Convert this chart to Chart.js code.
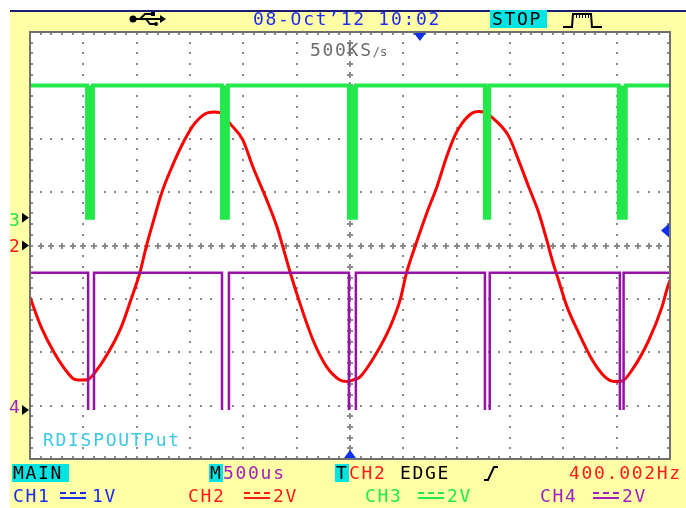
<!DOCTYPE html>
<html>
<head>
<meta charset="utf-8">
<script src="https://cdn.jsdelivr.net/npm/chart.js@4.4.1/dist/chart.umd.min.js"></script>
<style>
  body { margin: 0; background: #fff; }
  #wrap { position: relative; width: 686px; height: 508px; overflow: hidden; }
  #scope { position: absolute; left: 0; top: 0; }
  .t {
    position: absolute;
    font-family: 'DejaVu Sans Mono', 'Liberation Mono', monospace;
    font-size: 18px;
    line-height: 18px;
    letter-spacing: 1.7px;
    white-space: pre;
  }
  .box { background: #00e4e4; color: #000; height: 18px; }
  .dc {
    position: absolute;
    width: 26px;
    height: 3px;
    border-top: 2px dashed;
    border-bottom: 2px solid;
  }
  .blue { color: #1a2cf0; }
  .red { color: #ff1a1a; }
  .green { color: #22e84a; }
  .purple { color: #a020c0; }
  .small { font-size: 12px; letter-spacing: 0; }
</style>
</head>
<body>
<div id="wrap">
  <canvas id="scope" width="686" height="508"></canvas>

  <div class="t blue" style="left:253px; top:10px;">08-Oct’12 10:02</div>
  <div class="t box" style="left:490px; top:10px; width:55px; padding-left:2px;">STOP</div>

  <div class="t" style="left:310px; top:41px; color:#6c6c6c;">500KS<span class="small">/s</span></div>
  <div class="t" style="left:43px; top:431px; color:#3cc8e6;">RDISPOUTPut</div>

  <div class="t green" style="left:9px; top:211px; letter-spacing:0;">3</div>
  <div class="t red" style="left:9px; top:237px; letter-spacing:0;">2</div>
  <div class="t purple" style="left:9px; top:398px; letter-spacing:0;">4</div>

  <div class="t box" style="left:12px; top:464px; width:56px; padding-left:1px;">MAIN</div>
  <div class="t box" style="left:209px; top:464px; width:13px; letter-spacing:0; padding-left:1px;">M</div>
  <div class="t purple" style="left:223px; top:464px;">500us</div>
  <div class="t box" style="left:335px; top:464px; width:13px; letter-spacing:0; padding-left:1px;">T</div>
  <div class="t red" style="left:349px; top:464px;">CH2</div>
  <div class="t" style="left:400px; top:464px; color:#000;">EDGE</div>
  <div class="t red" style="left:569px; top:464px;">400.002Hz</div>

  <div class="t blue" style="left:13px; top:487px;">CH1</div>
  <div class="dc blue" style="left:60px; top:492px;"></div>
  <div class="t blue" style="left:92px; top:487px;">1V</div>
  <div class="t red" style="left:188px; top:487px;">CH2</div>
  <div class="dc red" style="left:244px; top:492px;"></div>
  <div class="t red" style="left:273px; top:487px;">2V</div>
  <div class="t green" style="left:365px; top:487px;">CH3</div>
  <div class="dc green" style="left:418px; top:492px;"></div>
  <div class="t green" style="left:447px; top:487px;">2V</div>
  <div class="t purple" style="left:540px; top:487px;">CH4</div>
  <div class="dc purple" style="left:593px; top:492px;"></div>
  <div class="t purple" style="left:622px; top:487px;">2V</div>
</div>

<script>
// screen is 12 x 8 divisions, x in divisions from the left edge, y in divisions from centre
const xDivs = 12;
const yDivs = 4;

// CH2: 400 Hz sine
const ch2Time = [0.00, 0.21, 0.46, 0.71, 0.84, 0.98, 1.09, 1.21, 1.46, 1.71, 1.89, 2.06, 2.18, 2.32, 2.47, 2.66, 2.90, 3.09, 3.34, 3.45, 3.56, 3.77, 3.99, 4.18, 4.44, 4.63, 4.74, 4.88, 5.06, 5.31, 5.56, 5.81, 5.94, 6.06, 6.19, 6.50, 6.75, 6.94, 7.06, 7.22, 7.44, 7.63, 7.81, 7.97, 8.10, 8.29, 8.41, 8.53, 8.72, 8.98, 9.16, 9.35, 9.54, 9.69, 9.79, 9.91, 10.07, 10.29, 10.54, 10.78, 10.97, 11.10, 11.29, 11.60, 11.85, 11.94, 12.00];
const ch2Level = [-0.97, -1.53, -2.02, -2.39, -2.51, -2.52, -2.51, -2.39, -2.02, -1.53, -1.02, -0.51, -0.02, 0.48, 0.99, 1.47, 1.98, 2.29, 2.49, 2.50, 2.49, 2.26, 1.98, 1.47, 0.85, 0.35, -0.02, -0.51, -1.08, -1.78, -2.27, -2.52, -2.55, -2.52, -2.46, -2.01, -1.53, -1.02, -0.51, -0.02, 0.61, 1.10, 1.66, 2.07, 2.29, 2.48, 2.51, 2.49, 2.35, 2.04, 1.60, 1.10, 0.61, 0.10, -0.27, -0.65, -1.15, -1.64, -2.14, -2.46, -2.55, -2.54, -2.33, -1.78, -1.15, -0.83, -0.65];

// CH3: high level with narrow low pulses
const ch3High = 3.0;
const ch3Low = 0.52;
const ch3Fall = [1.07, 3.60, 5.98, 8.53, 11.04];
const ch3Rise = [1.18, 3.71, 6.11, 8.61, 11.17];

// CH4: same pulse train, lower on screen
const ch4High = -0.51;
const ch4Low = -3.08;
const ch4Fall = [1.09, 3.60, 5.98, 8.53, 11.06];
const ch4Rise = [1.20, 3.73, 6.11, 8.62, 11.13];

const trigLevel = 0.28;   // CH2 trigger level (divisions)
const trigPos = 7.31;     // top marker
const channelZero = { ch3: ch3Low, ch2: 0, ch4: ch4Low };

function pulses(high, low, falls, rises, openBottom) {
    const pts = [{ x: 0, y: high }];
    falls.forEach((a, i) => {
        const b = rises[i];
        pts.push({ x: a, y: high }, { x: a, y: low });
        if (openBottom) pts.push({ x: (a + b) / 2, y: null });
        pts.push({ x: b, y: low }, { x: b, y: high });
    });
    pts.push({ x: xDivs, y: high });
    return pts;
}

const ch2Points = ch2Time.map((t, i) => ({ x: t, y: ch2Level[i] }));
const ch3Points = pulses(ch3High, ch3Low, ch3Fall, ch3Rise, false);
const ch4Points = pulses(ch4High, ch4Low, ch4Fall, ch4Rise, true);

// yellow panel, white screen
const scopeFrame = {
    id: 'scopeFrame',
    beforeDraw(chart) {
        const { ctx, width, height, chartArea: a } = chart;
        ctx.save();
        ctx.fillStyle = '#ffffff';
        ctx.fillRect(0, 0, width, height);
        ctx.fillStyle = '#ffffa6';
        ctx.fillRect(10, 12, width - 10, height - 12);
        ctx.fillStyle = '#1c1c70';
        ctx.fillRect(10, 10, width - 10, 2);
        ctx.fillStyle = '#ffffff';
        ctx.fillRect(a.left, a.top, a.right - a.left, a.bottom - a.top);
        ctx.restore();
    }
};

// dotted graticule, crosses on the centre lines
const scopeGrid = {
    id: 'scopeGrid',
    beforeDatasetsDraw(chart) {
        const { ctx, chartArea: a, scales: { x, y } } = chart;
        ctx.save();
        ctx.fillStyle = '#8a8a8a';
        const dot = (px, py) => ctx.fillRect(Math.round(px) - 1, Math.round(py) - 1, 2, 2);
        const cross = (px, py) => {
            px = Math.round(px); py = Math.round(py);
            ctx.fillRect(px - 3, py - 1, 6, 2);
            ctx.fillRect(px - 1, py - 3, 2, 6);
        };
        for (let i = 1; i < xDivs; i++) {
            const px = x.getPixelForValue(i);
            for (let k = 1; k < yDivs * 10; k++) {
                const py = y.getPixelForValue(-yDivs + k / 5);
                (i === xDivs / 2 ? cross : dot)(px, py);
            }
        }
        for (let j = -yDivs + 1; j < yDivs; j++) {
            const py = y.getPixelForValue(j);
            for (let k = 1; k < xDivs * 5; k++) {
                const px = x.getPixelForValue(k / 5);
                (j === 0 ? cross : dot)(px, py);
            }
        }
        // ticks along the frame
        for (let k = 1; k < xDivs * 5; k++) {
            const px = x.getPixelForValue(k / 5);
            dot(px, a.top + 2);
            dot(px, a.bottom - 2);
        }
        for (let k = 1; k < yDivs * 10; k++) {
            const py = y.getPixelForValue(-yDivs + k / 5);
            dot(a.left + 2, py);
            dot(a.right - 2, py);
        }
        ctx.restore();
    }
};

// frame, markers and icons
const scopeMarks = {
    id: 'scopeMarks',
    afterDatasetsDraw(chart) {
        const { ctx, chartArea: a, scales: { x, y } } = chart;
        ctx.save();
        ctx.strokeStyle = '#707070';
        ctx.lineWidth = 2;
        ctx.strokeRect(a.left, a.top, a.right - a.left, a.bottom - a.top);

        const tri = (pts, color) => {
            ctx.fillStyle = color;
            ctx.beginPath();
            ctx.moveTo(pts[0], pts[1]);
            ctx.lineTo(pts[2], pts[3]);
            ctx.lineTo(pts[4], pts[5]);
            ctx.closePath();
            ctx.fill();
        };
        const blue = '#1030f0';
        let px = x.getPixelForValue(trigPos);
        tri([px - 6, a.top + 1, px + 6, a.top + 1, px, a.top + 9], blue);
        px = x.getPixelForValue(xDivs / 2);
        tri([px - 6, a.bottom - 1, px + 6, a.bottom - 1, px, a.bottom - 9], blue);
        let py = y.getPixelForValue(trigLevel);
        tri([a.right - 1, py - 7, a.right - 1, py + 7, a.right - 9, py], blue);

        // channel ground markers
        Object.values(channelZero).forEach(v => {
            const yy = y.getPixelForValue(v);
            tri([a.left - 8, yy - 5, a.left - 8, yy + 5, a.left - 1, yy], '#000');
        });

        // usb icon
        ctx.fillStyle = '#000';
        ctx.strokeStyle = '#000';
        ctx.lineWidth = 2;
        ctx.beginPath(); ctx.arc(133, 19, 3.5, 0, Math.PI * 2); ctx.fill();
        ctx.beginPath();
        ctx.moveTo(133, 19); ctx.lineTo(160, 19);
        ctx.moveTo(140, 19); ctx.lineTo(145, 14); ctx.lineTo(152, 14);
        ctx.moveTo(146, 19); ctx.lineTo(150, 24); ctx.lineTo(155, 24);
        ctx.stroke();
        tri([160, 15, 160, 23, 166, 19], '#000');
        ctx.fillRect(151, 12, 4, 4);
        ctx.beginPath(); ctx.arc(156, 24, 2, 0, Math.PI * 2); ctx.fill();

        // trigger mode icon
        ctx.beginPath();
        ctx.moveTo(563, 27); ctx.lineTo(572, 27); ctx.lineTo(573, 14);
        ctx.lineTo(591, 14); ctx.lineTo(592, 27); ctx.lineTo(602, 27);
        ctx.stroke();
        ctx.lineWidth = 1;
        ctx.beginPath();
        for (let k = 576; k <= 588; k += 3) { ctx.moveTo(k + 0.5, 14); ctx.lineTo(k + 0.5, 18); }
        ctx.stroke();

        // rising edge icon
        ctx.lineWidth = 2;
        ctx.beginPath();
        ctx.moveTo(484, 480); ctx.lineTo(488, 480); ctx.lineTo(494, 467); ctx.lineTo(498, 467);
        ctx.stroke();
        ctx.restore();
    }
};

new Chart(document.getElementById('scope'), {
    type: 'line',
    data: {
        datasets: [
            { label: 'CH4', data: ch4Points, borderColor: '#9612a6', borderWidth: 2.5, order: 1 },
            { label: 'CH3', data: ch3Points, borderColor: '#22e84a', backgroundColor: '#22e84a',
              borderWidth: 4, fill: { value: ch3High }, order: 2 },
            { label: 'CH2', data: ch2Points, borderColor: '#ff0000', borderWidth: 3,
              cubicInterpolationMode: 'monotone', order: 3 }
        ]
    },
    options: {
        responsive: false,
        animation: false,
        layout: { padding: { left: 30, top: 32, right: 16, bottom: 49 } },
        elements: { point: { radius: 0 }, line: { tension: 0 } },
        scales: {
            x: { type: 'linear', min: 0, max: xDivs, display: false },
            y: { min: -yDivs, max: yDivs, display: false }
        },
        plugins: { legend: { display: false }, tooltip: { enabled: false } }
    },
    plugins: [scopeFrame, scopeGrid, scopeMarks]
});
</script>
</body>
</html>
